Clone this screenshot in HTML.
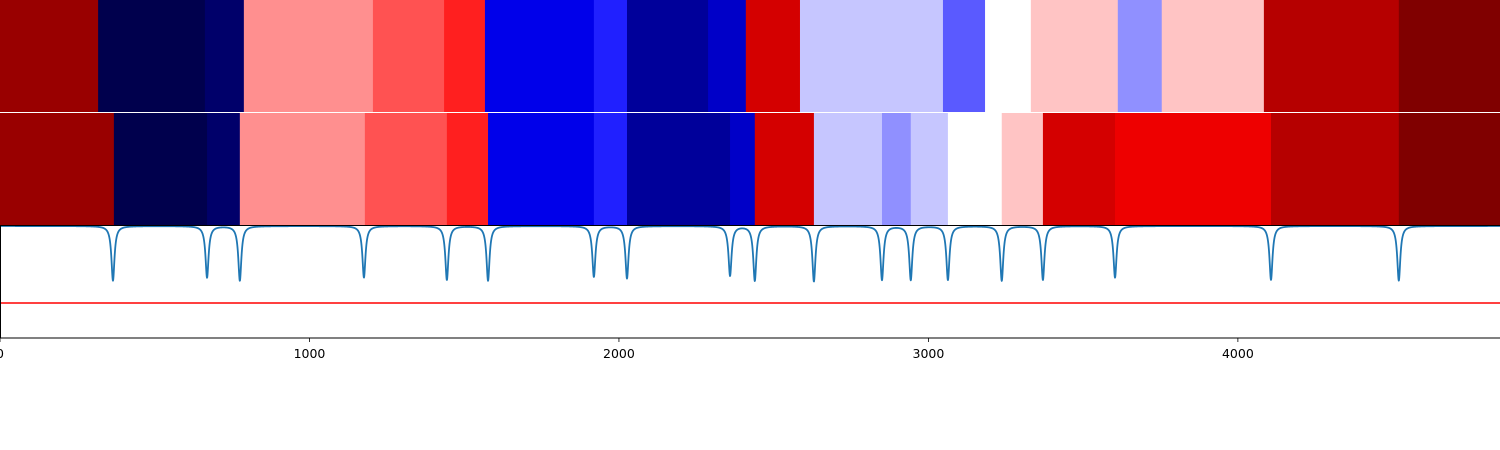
<!DOCTYPE html>
<html><head><meta charset="utf-8"><style>
html,body{margin:0;padding:0;background:#fff;}
svg{display:block;font-family:"DejaVu Sans","Liberation Sans",sans-serif;}
</style></head><body>
<svg id="chart" width="1500" height="450" viewBox="0 0 1500 450"></svg>
<script>
const row1Bounds=[0,317,662,788,1205,1435,1567,1919,2026,2288,2410,2585,3047,3183,3331,3612,3754,4084,4520,4847];
const row1Values=[0.95,0.0,0.041,0.61,0.67,0.72,0.221,0.281,0.109,0.173,0.834,0.444,0.338,0.5,0.558,0.391,0.558,0.893,1.0];
const row2Bounds=[0,368,669,775,1179,1444,1577,1919,2026,2359,2439,2630,2850,2943,3063,3237,3370,3603,4107,4520,4847];
const row2Values=[0.95,0.0,0.041,0.61,0.67,0.72,0.221,0.281,0.109,0.173,0.834,0.444,0.391,0.444,0.5,0.558,0.834,0.783,0.893,1.0];
const dipCenters=[365,669,775,1176,1444,1577,1919,2026,2359,2439,2630,2850,2943,3063,3237,3370,3603,4107,4520];
const dipDepths=[0.71,0.67,0.71,0.67,0.70,0.71,0.66,0.68,0.645,0.71,0.72,0.70,0.70,0.70,0.71,0.70,0.67,0.70,0.71];
const threshold=-1.0;
const xTicks=[0,1000,2000,3000,4000];
const xMax=4847;

const NS="http://www.w3.org/2000/svg";
const svg=document.getElementById('chart');
const X=v=>v/xMax*1500;
const Y=v=>226-v*77;
function el(t,a,p){const e=document.createElementNS(NS,t);for(const k in a)e.setAttribute(k,a[k]);(p||svg).appendChild(e);return e;}
function seismic(v){
  let r,g,b;
  if(v<0.25){const t=v/0.25;r=0;g=0;b=0.3+0.7*t;}
  else if(v<0.5){const t=(v-0.25)/0.25;r=t;g=t;b=1;}
  else if(v<0.75){const t=(v-0.5)/0.25;r=1;g=1-t;b=1-t;}
  else{const t=(v-0.75)/0.25;r=1-0.5*t;g=0;b=0;}
  return `rgb(${Math.round(r*255)},${Math.round(g*255)},${Math.round(b*255)})`;
}
function drawRow(bounds,values,y0,h,name){
  const g=el('g',{});
  
  
  for(let i=0;i<values.length;i++){
    const x0=X(bounds[i]),x1=X(bounds[i+1]);
    const r=el('rect',{x:x0,y:y0,width:x1-x0+0.5,height:h,fill:seismic(values[i])},g);
    
    
  }
}
drawRow(row1Bounds,row1Values,0,112,'heatmap-row-1');
drawRow(row2Bounds,row2Values,113,112,'heatmap-row-2');

// line plot
const gam=6;
let d='';
for(let px=0;px<=1500;px+=0.25){
  const x=px/1500*xMax;let v=0;
  for(let i=0;i<dipCenters.length;i++){const dx=x-dipCenters[i];v-=dipDepths[i]*gam*gam/(dx*dx+gam*gam);}
  d+=(px===0?'M':'L')+px.toFixed(2)+','+Y(v).toFixed(2);
}
const clip=el('clipPath',{id:'c'});el('rect',{x:0,y:225,width:1500,height:113},clip);
const ln=el('path',{d:d,fill:'none',stroke:'#1f77b4','stroke-width':1.8,'stroke-linejoin':'round','clip-path':'url(#c)'});


const th=el('line',{x1:0,x2:1500,y1:Y(threshold),y2:Y(threshold),stroke:'#ff0000','stroke-width':1.5});



// spines
const sp=el('path',{d:'M0.5,338 V225.5 H1500 M0,338 H1500',stroke:'#000','stroke-width':1,fill:'none'});


const ax=el('g',{});


xTicks.forEach(t=>{
  const x=X(t);
  el('line',{x1:x,x2:x,y1:338,y2:342,stroke:'#000','stroke-width':0.8},ax);
  const tx=el('text',{x:x,y:358,'text-anchor':'middle','font-size':12.5,fill:'#000'},ax);
  tx.textContent=t;
  
  
});
</script>
</body></html>
